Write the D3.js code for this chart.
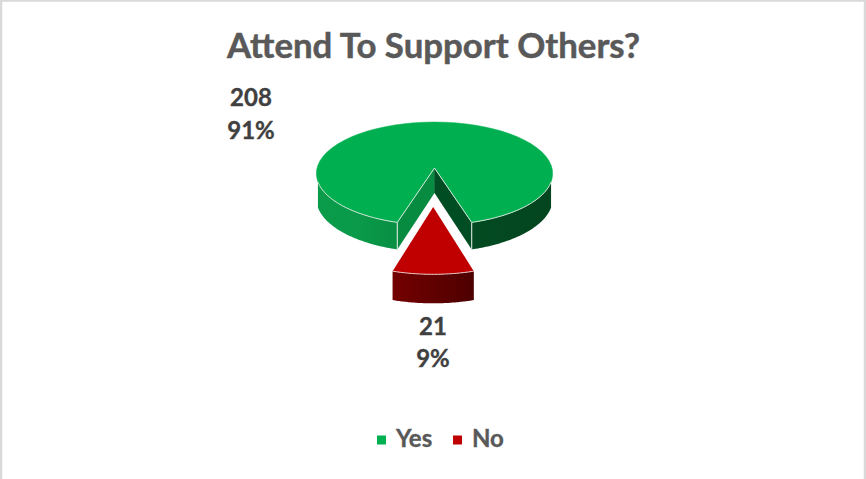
<!DOCTYPE html>
<html>
<head>
<meta charset="utf-8">
<script src="https://cdnjs.cloudflare.com/ajax/libs/d3/7.8.5/d3.min.js"></script>
<style>html,body{margin:0;padding:0;background:#fff}svg{display:block}text{font-family:Lato,"Open Sans",sans-serif;font-weight:700}</style>
</head>
<body>
<svg id="c" width="866" height="479"></svg>
<script>
const titleText = "Attend To Support Others?";
const categories = ["Yes", "No"];
const values = [208, 21];
const percentLabels = ["91%", "9%"];

const svg = d3.select("#c");
svg.append("rect").attr("width", 866).attr("height", 479).attr("fill", "#fff");
svg.append("path").attr("d", "M1,479V0.5H865V479").attr("fill", "none").attr("stroke", "#d9d9d9").attr("stroke-width", 2.5);

const total = d3.sum(values);
const start = Math.PI + Math.PI * values[1] / total;
const arcs = d3.pie().sort(null).startAngle(start).endAngle(start + 2 * Math.PI)(values);

// perspective projection of the tilted pie
const cx = 434.5, cy = 168, R = 117.5, H = 50.9, P = 0.107, EXPLODE = 0.707, EXPLODE_X = -1.3;
function project(theta, r, off, lower) {
  const u = Math.sin(theta) * r, v = -Math.cos(theta) * r + off;
  const s = 1 / (1 - P * v);
  const depth = 25 + 18 * (s - 1);
  return [cx + R * u * s + (off ? EXPLODE_X : 0), cy + H * v * s + (lower ? depth : 0)];
}
const rim = (a, b, off, lower) => d3.range(0, 61).map(i => project(a + (b - a) * i / 60, 1, off, lower));
const line = d3.line().curve(d3.curveLinear);

const defs = svg.append("defs");
function grad(id, stops) {
  const g = defs.append("linearGradient").attr("id", id).attr("x1", 0).attr("x2", 1).attr("y1", 0).attr("y2", 0);
  stops.forEach(([o, c]) => g.append("stop").attr("offset", o).attr("stop-color", c));
}
grad("gl", [[0, "#0a9c4b"], [0.5, "#0a9a49"], [1, "#088f44"]]);
grad("gr", [[0, "#024a21"], [1, "#03451f"]]);
grad("rd", [[0, "#740000"], [1, "#4d0000"]]);

const yes = arcs[0], no = arcs[1];
const edge = "#d7e6dc";

function sidePath(a, b, off) {
  const top = rim(a, b, off, false), bot = rim(a, b, off, true).reverse();
  return line(top.concat(bot)) + "Z";
}
// outer side walls of the large slice (the silhouette ends where the rim highlight ends)
const wallTurn = 0.27;
svg.append("path").attr("d", sidePath(yes.startAngle, 3 * Math.PI / 2 - wallTurn, 0)).attr("fill", "url(#gl)");
svg.append("path").attr("d", sidePath(Math.PI / 2 + wallTurn, yes.endAngle - 2 * Math.PI, 0)).attr("fill", "url(#gr)");

// inner cut walls
const apexTop = project(0, 0, 0, false), apexBot = project(0, 0, 0, true);
const cL = project(yes.startAngle, 1, 0, false), cLb = project(yes.startAngle, 1, 0, true);
const cR = project(yes.endAngle, 1, 0, false), cRb = project(yes.endAngle, 1, 0, true);
svg.append("path").attr("d", line([apexTop, cL, cLb, apexBot]) + "Z").attr("fill", "#078b41");
svg.append("path").attr("d", line([apexTop, cR, cRb, apexBot]) + "Z").attr("fill", "#004d23");
svg.append("path").attr("d", line([apexTop, apexBot])).attr("stroke", "#0b6a36").attr("stroke-width", 0.8);
[[cL, cLb], [cR, cRb]].forEach(p => svg.append("path").attr("d", line(p)).attr("stroke", edge).attr("stroke-width", 1.1).attr("fill", "none"));

// top of the large slice
svg.append("path")
  .attr("d", line([apexTop].concat(rim(yes.startAngle, yes.endAngle, 0, false))) + "Z")
  .attr("fill", "#00B050").attr("stroke", "#00B050").attr("stroke-width", 0.5);
// light highlight along the front rim and cut edges
svg.append("path").attr("d", line(rim(yes.startAngle, 3 * Math.PI / 2 - wallTurn, 0, false))).attr("fill", "none").attr("stroke", edge).attr("stroke-width", 1);
svg.append("path").attr("d", line(rim(Math.PI / 2 + wallTurn, yes.endAngle - 2 * Math.PI, 0, false))).attr("fill", "none").attr("stroke", edge).attr("stroke-width", 1);
svg.append("path").attr("d", line([cL, apexTop, cR])).attr("fill", "none").attr("stroke", edge).attr("stroke-width", 1);

// exploded small slice
svg.append("path").attr("d", sidePath(no.startAngle, no.endAngle, EXPLODE)).attr("fill", "url(#rd)");
const rA = project(0, 0, EXPLODE, false);
svg.append("path")
  .attr("d", line([rA].concat(rim(no.startAngle, no.endAngle, EXPLODE, false))) + "Z")
  .attr("fill", "#C00000");
svg.append("path").attr("d", line(rim(no.startAngle, no.endAngle, EXPLODE, false))).attr("fill", "none").attr("stroke", "#e8cccc").attr("stroke-width", 1);

// title
svg.append("text").attr("x", 433.5).attr("y", 57.5).attr("text-anchor", "middle")
  .attr("font-size", 34.8).attr("fill", "#595959").attr("stroke", "#595959").attr("stroke-width", 0.5).text(titleText);

// data labels
const labelPos = [[251, 106, 139], [433, 335, 367]];
categories.forEach((c, i) => {
  const [x, y1, y2] = labelPos[i];
  const t = svg.append("text").attr("text-anchor", "middle").attr("font-size", 24).attr("fill", "#404040").attr("stroke", "#404040").attr("stroke-width", 0.35);
  t.append("tspan").attr("x", x).attr("y", y1).text(values[i]);
  t.append("tspan").attr("x", x).attr("y", y2).text(percentLabels[i]);
});

// legend
const colors = ["#00B050", "#C00000"];
const legendX = [377, 453];
categories.forEach((c, i) => {
  svg.append("rect").attr("x", legendX[i]).attr("y", 435.5).attr("width", 9).attr("height", 9).attr("fill", colors[i]);
  svg.append("text").attr("x", legendX[i] + 19).attr("y", 447).attr("font-size", 24).attr("fill", "#595959").attr("stroke", "#595959").attr("stroke-width", 0.35).text(c);
});
</script>
</body>
</html>
